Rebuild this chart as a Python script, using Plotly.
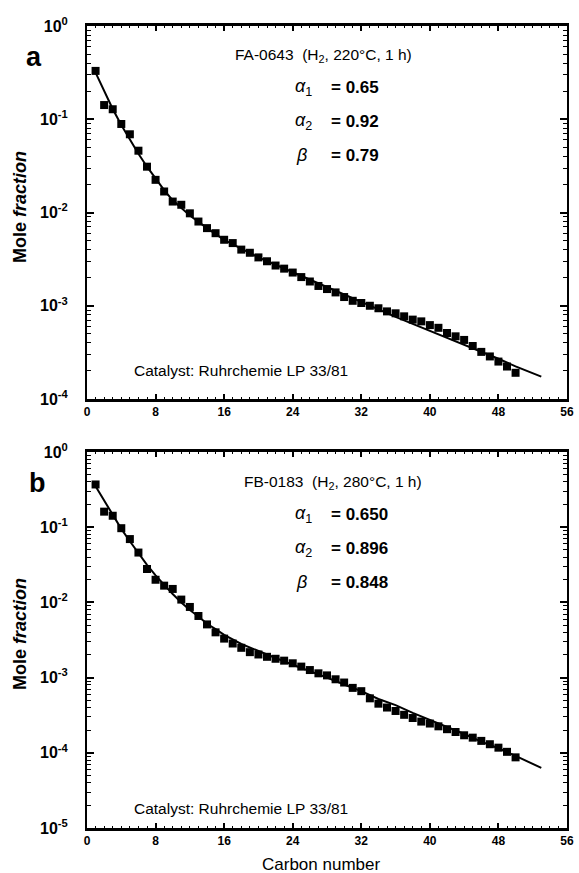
import plotly.graph_objects as go

# ---------------- data ----------------
carbon_a = list(range(1, 51))
mole_a = [0.33, 0.142, 0.128, 0.089, 0.069, 0.046, 0.031, 0.0224, 0.0168, 0.0131,
          0.0121, 0.0098, 0.0080, 0.0068, 0.0060, 0.0051, 0.0047, 0.0040, 0.0037, 0.0033,
          0.0030, 0.0027, 0.0025, 0.00227, 0.00203, 0.00182, 0.00163, 0.00151, 0.00139, 0.00124,
          0.00113, 0.00107, 0.00100, 0.00094, 0.00087, 0.00083, 0.00077, 0.00071, 0.00068, 0.00062,
          0.00058, 0.00051, 0.00047, 0.00043, 0.00037, 0.00032, 0.000286, 0.000252, 0.000223, 0.000191]

fit_n_a = [1, 2, 3, 4, 5, 6, 7, 8, 9, 10, 12, 14, 16, 18, 20, 22, 24, 26, 28, 30,
           32, 34, 36, 38, 40, 42, 44, 46, 48, 50, 53]
fit_a = [0.316, 0.20, 0.129, 0.087, 0.060, 0.0427, 0.031, 0.0229, 0.0174, 0.0135,
         0.0093, 0.0068, 0.0051, 0.0041, 0.0033, 0.00275, 0.0023, 0.0019, 0.00158, 0.00132,
         0.0011, 0.00091, 0.00076, 0.00064, 0.00054, 0.00045, 0.00038, 0.00032, 0.00027, 0.000224, 0.000174]

carbon_b = list(range(1, 51))
mole_b = [0.37, 0.161, 0.142, 0.097, 0.0695, 0.046, 0.0278, 0.020, 0.0167, 0.0151,
          0.0109, 0.0087, 0.0066, 0.0051, 0.0040, 0.0033, 0.00284, 0.00249, 0.00218, 0.00203,
          0.00189, 0.00178, 0.00168, 0.00155, 0.00140, 0.00126, 0.00114, 0.00107, 0.00095, 0.00086,
          0.00073, 0.00066, 0.00053, 0.00045, 0.00040, 0.00036, 0.00032, 0.00029, 0.00026, 0.000245,
          0.000225, 0.000206, 0.000189, 0.000171, 0.000159, 0.000144, 0.00013, 0.000117, 0.000103, 0.000087]

fit_n_b = [1, 2, 3, 4, 5, 6, 7, 8, 9, 10, 11, 12, 13, 14, 15, 16, 18, 20, 22, 24,
           26, 28, 30, 32, 34, 36, 38, 40, 42, 44, 46, 48, 50, 53]
fit_b = [0.35, 0.224, 0.145, 0.095, 0.065, 0.045, 0.0316, 0.0229, 0.017, 0.0129,
         0.010, 0.0079, 0.0065, 0.0052, 0.0044, 0.0037, 0.0028, 0.00224, 0.00182, 0.00148,
         0.00123, 0.0010, 0.00081, 0.00066, 0.00052, 0.00043, 0.00034, 0.000275, 0.00022, 0.000178,
         0.000141, 0.000115, 0.000091, 0.000063]

ytick_vals_a = [1e0, 1e-1, 1e-2, 1e-3, 1e-4]
ytick_text_a = ["10<sup>0</sup>", "10<sup>-1</sup>", "10<sup>-2</sup>", "10<sup>-3</sup>", "10<sup>-4</sup>"]
ytick_vals_b = [1e0, 1e-1, 1e-2, 1e-3, 1e-4, 1e-5]
ytick_text_b = ["10<sup>0</sup>", "10<sup>-1</sup>", "10<sup>-2</sup>", "10<sup>-3</sup>",
                "10<sup>-4</sup>", "10<sup>-5</sup>"]
xtick_vals = [0, 8, 16, 24, 32, 40, 48, 56]

# ---------------- figure ----------------
W, H = 579, 873
FONT = "Liberation Sans, Arial, Helvetica, sans-serif"

def px(x):
    return x / W

def py(y):
    return 1 - y / H

fig = go.Figure()

marker = dict(symbol="square", size=8, color="black")
line = dict(color="black", width=2)

fig.add_trace(go.Scatter(x=fit_n_a, y=fit_a, mode="lines", line=line, xaxis="x", yaxis="y",
                         showlegend=False, hoverinfo="skip"))
fig.add_trace(go.Scatter(x=carbon_a, y=mole_a, mode="markers", marker=marker, xaxis="x", yaxis="y",
                         showlegend=False))
fig.add_trace(go.Scatter(x=fit_n_b, y=fit_b, mode="lines", line=line, xaxis="x2", yaxis="y2",
                         showlegend=False, hoverinfo="skip"))
fig.add_trace(go.Scatter(x=carbon_b, y=mole_b, mode="markers", marker=marker, xaxis="x2", yaxis="y2",
                         showlegend=False))

xdom = [px(87), px(567)]
common_x = dict(range=[0, 56], tickvals=xtick_vals, ticks="inside", ticklen=5, tickwidth=1.5,
                tickcolor="black", showline=True, linecolor="black", linewidth=2.5, mirror="ticks",
                showgrid=False, zeroline=False, automargin=False,
                tickfont=dict(family=FONT, size=12, color="black", weight="bold"),
                minor=dict(dtick=1, ticks="inside", ticklen=2.5, tickwidth=1, tickcolor="black",
                           showgrid=False),
                domain=xdom)
common_y = dict(type="log", ticks="inside", ticklen=7, tickwidth=1.5, tickcolor="black",
                showline=True, linecolor="black", linewidth=2, mirror="ticks",
                showgrid=False, zeroline=False, automargin=False, ticklabelstandoff=14,
                tickfont=dict(family=FONT, size=16, color="black", weight="bold"),
                minor=dict(dtick="D1", ticks="inside", ticklen=4, tickwidth=1, tickcolor="black",
                           showgrid=False))

fig.update_layout(
    width=W, height=H,
    margin=dict(l=0, r=0, t=0, b=0),
    paper_bgcolor="white", plot_bgcolor="white",
    font=dict(family=FONT, color="black"),
    xaxis=dict(**common_x, anchor="y"),
    yaxis=dict(**common_y, range=[-4, 0], tickvals=ytick_vals_a, ticktext=ytick_text_a,
               domain=[py(399), py(26)], anchor="x"),
    xaxis2=dict(**common_x, anchor="y2"),
    yaxis2=dict(**common_y, range=[-5, 0], tickvals=ytick_vals_b, ticktext=ytick_text_b,
                domain=[py(828), py(452)], anchor="x2"),
)

ann = []

def add(text, x, y, size, xanchor="left", angle=0, bold=False):
    ann.append(dict(text=text, x=px(x), y=py(y), xref="paper", yref="paper",
                    xanchor=xanchor, yanchor="middle", showarrow=False, textangle=angle,
                    font=dict(family=FONT, size=size, color="black",
                              weight="bold" if bold else "normal")))

# panel letters
add("<b>a</b>", 34, 57, 27, xanchor="center")
add("<b>b</b>", 37, 483, 27, xanchor="center")

# axis titles
add("<b>Mole <i>fraction</i></b>", 20, 207, 18, xanchor="center", angle=-90)
add("<b>Mole <i>fraction</i></b>", 20, 634, 18, xanchor="center", angle=-90)
add("Carbon number", 321, 864, 17, xanchor="center")

# panel a texts
add("FA-0643  (H<sub>2</sub>, 220°C, 1 h)", 233, 56, 15.5)
add("<i>α</i><sub>1</sub>", 293, 88, 18)
add("<i>α</i><sub>2</sub>", 293, 122, 18)
add("<i>β</i>", 294, 155, 18)
add("<b>= 0.65</b>", 329, 88, 17)
add("<b>= 0.92</b>", 329, 122, 17)
add("<b>= 0.79</b>", 329, 155, 17)
add("Catalyst: Ruhrchemie LP 33/81", 132, 370, 15.5)

# panel b texts
add("FB-0183  (H<sub>2</sub>, 280°C, 1 h)", 242, 482, 15.5)
add("<i>α</i><sub>1</sub>", 293, 514, 18)
add("<i>α</i><sub>2</sub>", 293, 548, 18)
add("<i>β</i>", 294, 582, 18)
add("<b>= 0.650</b>", 329, 514, 17)
add("<b>= 0.896</b>", 329, 548, 17)
add("<b>= 0.848</b>", 329, 582, 17)
add("Catalyst: Ruhrchemie LP 33/81", 132, 808, 15.5)

fig.update_layout(annotations=ann)

fig.write_html("out.html")
